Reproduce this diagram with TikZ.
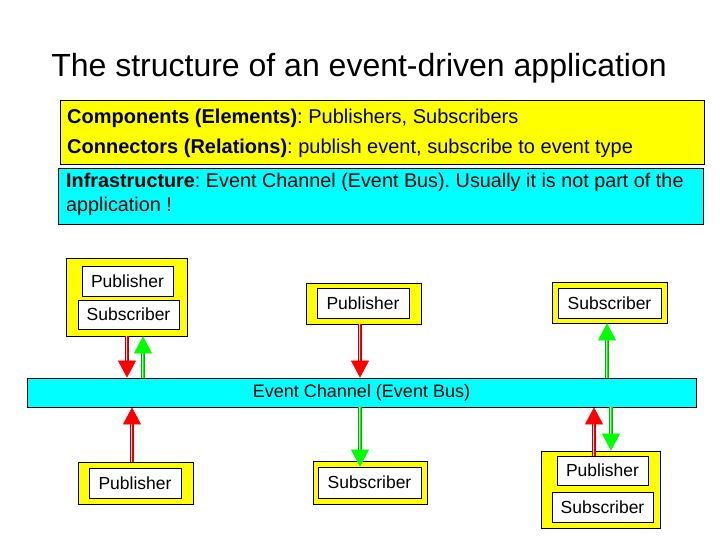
\documentclass[tikz,border=0pt]{standalone}
\usepackage{fontspec}
\setmainfont{Liberation Sans}
\usepackage{tikz}
\usetikzlibrary{positioning}
\usetikzlibrary{arrows.meta}
\usetikzlibrary{calc}
\frenchspacing
\definecolor{boxyellow}{RGB}{255,255,0}
\definecolor{buscyan}{RGB}{0,255,255}
\definecolor{pubred}{RGB}{255,0,0}
\definecolor{subgreen}{RGB}{0,255,0}
\tikzstyle{ybox}=[draw=black,fill=boxyellow,line width=0.8pt,inner sep=0pt]
\tikzstyle{wbox}=[draw=black,fill=white,line width=0.8pt,inner sep=0pt,font=\fontsize{17.5}{20}\selectfont]
\tikzstyle{busbox}=[draw=black,fill=buscyan,line width=0.8pt,inner sep=0pt,font=\fontsize{18}{20}\selectfont]
\tikzstyle{pubarrow}=[-{Triangle[width=18pt,length=17pt]},pubred,line width=0.6pt,
  preaction={-,draw=pubred!75!black,double=pubred!15,double distance=2pt,line width=1pt,shorten >=14pt}]
\tikzstyle{subarrow}=[-{Triangle[width=18pt,length=17pt]},subgreen,line width=0.6pt,
  preaction={-,draw=subgreen!70!black,double=subgreen!25,double distance=2pt,line width=1pt,shorten >=14pt}]

\begin{document}
\begin{tikzpicture}[x=1pt,y=-1pt]
	\useasboundingbox (0,0) rectangle (720,540);
	\fill[white] (0,0) rectangle (720,540);
	
	% Title and description
	\node[font=\fontsize{32}{36}\selectfont] (title) at (359,68) {The structure of an event-driven application};
	\node[ybox, minimum width=644, minimum height=64] (elements) at (382,132) {};
	\node[anchor=west, inner sep=0pt, font=\fontsize{20}{24}\selectfont] (comp) at (67,118) {\textbf{Components (Elements)}: Publishers, Subscribers};
	\node[anchor=west, inner sep=0pt, font=\fontsize{20}{24}\selectfont] (conn) at (67,148) {\textbf{Connectors (Relations)}: publish event, subscribe to event type};
	\node[ybox, fill=buscyan, minimum width=645, minimum height=56] (infra) at (380.5,196) {};
	\node[anchor=north west, inner sep=0pt, align=left, font=\fontsize{19.8}{24}\selectfont] (infratext) at (66,173) {\textbf{Infrastructure}: Event Channel (Event Bus). Usually it is not part of the\\application !};
	
	% Event bus
	\node[busbox, minimum width=669, minimum height=29] (bus) at (361.5,392.5) {Event Channel (Event Bus)};
	
	% Components above the bus
	\node[ybox, minimum width=121, minimum height=78] (ps1) at (126.5,297) {};
	\node[wbox, minimum width=91, minimum height=30] (pub1) at (127.5,281) {Publisher};
	\node[wbox, minimum width=101, minimum height=29] (sub1) at (128.5,314.5) {Subscriber};
	\node[ybox, minimum width=115, minimum height=41] (p2) at (363.5,303.5) {};
	\node[wbox, minimum width=92, minimum height=30] (pub2) at (363,303) {Publisher};
	\node[ybox, minimum width=115, minimum height=41] (s2) at (609.5,302.5) {};
	\node[wbox, minimum width=103, minimum height=30] (sub2) at (609.5,303) {Subscriber};
	
	% Components below the bus
	\node[ybox, minimum width=115, minimum height=42] (p3) at (135.5,483) {};
	\node[wbox, minimum width=92, minimum height=30] (pub3) at (135,483) {Publisher};
	\node[ybox, minimum width=114, minimum height=43] (s3) at (370,482.5) {};
	\node[wbox, minimum width=103, minimum height=31] (sub3) at (369.5,482.5) {Subscriber};
	\node[ybox, minimum width=119, minimum height=77] (ps4) at (600.5,489.5) {};
	\node[wbox, minimum width=91, minimum height=29] (pub4) at (602.5,470.5) {Publisher};
	\node[wbox, minimum width=101, minimum height=30] (sub4) at (602.5,507) {Subscriber};
	
	% Arrow positions
	\coordinate (r1) at (127,0);
	\coordinate (g1) at (143,0);
	\coordinate (r2) at (360,0);
	\coordinate (g2) at (607,0);
	\coordinate (r3) at (132,0);
	\coordinate (g3) at (360,0);
	\coordinate (r4) at (594,0);
	\coordinate (g4) at (611,0);
	
	% Publish and subscribe
	\draw[pubarrow] (ps1.south -| r1) -- (bus.north -| r1);
	\draw[subarrow] (bus.north -| g1) -- (ps1.south -| g1);
	\draw[pubarrow] (p2.south -| r2) -- (bus.north -| r2);
	\draw[subarrow] (bus.north -| g2) -- (s2.south -| g2);
	\draw[pubarrow] (p3.north -| r3) -- (bus.south -| r3);
	\draw[subarrow] (bus.south -| g3) -- (sub3.north -| g3);
	\draw[pubarrow] (pub4.north -| r4) -- (bus.south -| r4);
	\draw[subarrow] (bus.south -| g4) -- (ps4.north -| g4);
	
\end{tikzpicture}
\end{document}
